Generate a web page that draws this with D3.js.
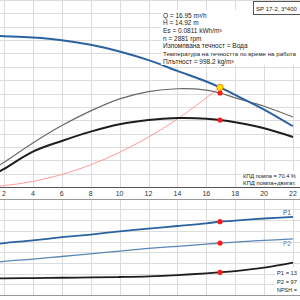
<!doctype html>
<html>
	<head>
		<meta charset="utf-8">
		<title>SP 17-2 pump curve</title>
		<script src="https://d3js.org/d3.v7.min.js"></script>
		<style>
		html, body { margin: 0; padding: 0; background: #fff; }
		svg { display: block; font-family: "Liberation Sans", Arial, sans-serif; }
		</style>
	</head>
	<body>
		<svg width="300" height="300"></svg>
		<script>
		// flow, m3/h
		var flow = [1.5, 2, 4, 6, 8, 10, 12, 14, 16, 16.95, 18, 20, 22];
		// head, m
		var head = [22.6, 22.6, 22.4, 22.0, 21.3, 20.3, 19.0, 17.4, 15.8, 14.92, 13.8, 11.6, 9.1];
		// efficiency, %
		var etaPump = [15, 18.5, 33, 46, 57, 66, 71.5, 73.6, 72.6, 70.4, 66.8, 60.5, 52.4];
		var etaTotal = [10.5, 13.5, 26.5, 34.5, 41.5, 47, 50.2, 51.6, 51.2, 50.2, 48.5, 44, 37.5];
		// power, kW
		var p1 = [0.95, 0.97, 1.02, 1.08, 1.13, 1.19, 1.24, 1.29, 1.34, 1.371, 1.39, 1.43, 1.46];
		var p2 = [0.61, 0.63, 0.67, 0.72, 0.77, 0.82, 0.87, 0.91, 0.95, 0.970, 0.99, 1.02, 1.05];
		// NPSH, m
		var npsh = [1.55, 1.56, 1.58, 1.61, 1.64, 1.68, 1.74, 1.86, 2.03, 2.12, 2.24, 2.55, 3.02];
		// system curve
		var sysFlow = [0, 2, 4, 6, 8, 10, 12, 14, 16.95];
		var sysHead = [0, 0.21, 0.83, 1.87, 3.32, 5.19, 7.48, 10.18, 14.92];

		var duty = {q: 16.95, h: 14.92, etaPump: 70.4, etaTotal: 50.2, p1: 1.371, p2: 0.970, npsh: 2.12};

		var xTicks = [2, 4, 6, 8, 10, 12, 14, 16, 18, 20, 22];
		var infoLines = [
			"Q = 16.95 m³/h",
			"H = 14.92 m",
			"Es = 0.0811 kWh/m³",
			"n = 2881 rpm",
			"Изпомпвана течност = Вода",
			"Температура на течността по време на работа",
			"Плътност = 998.2 kg/m³"
		];
		var effLines = ["КПД помпа = 70.4 %", "КПД помпа+двигат."];
		var powerLines = ["P1 = 13", "P2 = 97", "NPSH ="];
		var pumpName = "SP 17-2, 3*400";

		var svg = d3.select("svg");

		var x = d3.scaleLinear().domain([2, 22]).range([4, 293]);
		var yH = d3.scaleLinear().domain([0, 28]).range([187, 0.1]);
		var yEta = d3.scaleLinear().domain([0, 100]).range([187, 53.5]);
		var yP = d3.scaleLinear().domain([0, 1.8]).range([295, 198.7]);
		var yN = d3.scaleLinear().domain([0, 9]).range([295, 198.7]);

		var defs = svg.append("defs");
		defs.append("clipPath").attr("id", "clipTop")
			.append("rect").attr("x", 0).attr("y", 0).attr("width", 293.5).attr("height", 187);
		defs.append("clipPath").attr("id", "clipBot")
			.append("rect").attr("x", 0).attr("y", 198.7).attr("width", 293.5).attr("height", 96.3);

		// grid
		var grid = svg.append("g").attr("stroke", "#dcdcdc").attr("stroke-width", 1);
		d3.range(0, 29, 2).forEach(function(h) {
			grid.append("line").attr("x1", 0).attr("x2", 300)
				.attr("y1", Math.round(yH(h)) + 0.5).attr("y2", Math.round(yH(h)) + 0.5);
		});
		d3.range(0, 10).forEach(function(i) {
			var y = Math.round(yP(i * 0.2)) + 0.5;
			grid.append("line").attr("x1", 0).attr("x2", 300).attr("y1", y).attr("y2", y);
		});
		xTicks.forEach(function(q) {
			var xx = Math.round(x(q)) + 0.5;
			grid.append("line").attr("x1", xx).attr("x2", xx).attr("y1", 0).attr("y2", 187);
			grid.append("line").attr("x1", xx).attr("x2", xx).attr("y1", 199).attr("y2", 295);
		});

		// axis and panel borders
		svg.append("line").attr("x1", 0).attr("x2", 300).attr("y1", 187.5).attr("y2", 187.5)
			.attr("stroke", "#555");
		svg.append("line").attr("x1", 0).attr("x2", 300).attr("y1", 199.5).attr("y2", 199.5)
			.attr("stroke", "#999");
		svg.append("line").attr("x1", 0).attr("x2", 300).attr("y1", 295.5).attr("y2", 295.5)
			.attr("stroke", "#999");

		svg.append("g").selectAll("text").data(xTicks).join("text")
			.attr("x", function(d) { return x(d); })
			.attr("y", 195.5)
			.attr("text-anchor", "middle")
			.attr("font-size", 7)
			.attr("fill", "#333")
			.text(function(d) { return d; });

		function pts(xs, ys) { return xs.map(function(q, i) { return [q, ys[i]]; }); }
		function curve(ys) {
			return d3.line().x(function(d) { return x(d[0]); }).y(function(d) { return ys(d[1]); })
				.curve(d3.curveCatmullRom);
		}

		var topPanel = svg.append("g").attr("clip-path", "url(#clipTop)").attr("fill", "none");
		topPanel.append("path").attr("d", curve(yH)(pts(sysFlow, sysHead)))
			.attr("stroke", "#ff9a9a").attr("stroke-width", 1);
		topPanel.append("path").attr("d", curve(yEta)(pts(flow, etaPump)))
			.attr("stroke", "#6a6a6a").attr("stroke-width", 1.2);
		topPanel.append("path").attr("d", curve(yEta)(pts(flow, etaTotal)))
			.attr("stroke", "#1e1e1e").attr("stroke-width", 2);
		topPanel.append("path").attr("d", curve(yH)(pts(flow, head)))
			.attr("stroke", "#2b62a0").attr("stroke-width", 2);

		var botPanel = svg.append("g").attr("clip-path", "url(#clipBot)").attr("fill", "none");
		botPanel.append("path").attr("d", curve(yP)(pts(flow, p1)))
			.attr("stroke", "#2b62a0").attr("stroke-width", 1.8);
		botPanel.append("path").attr("d", curve(yP)(pts(flow, p2)))
			.attr("stroke", "#5a86b8").attr("stroke-width", 1.3);
		botPanel.append("path").attr("d", curve(yN)(pts(flow, npsh)))
			.attr("stroke", "#1e1e1e").attr("stroke-width", 1.8);

		// duty point markers
		var dots = [
			[duty.etaPump, yEta], [duty.etaTotal, yEta],
			[duty.p1, yP], [duty.p2, yP], [duty.npsh, yN]
		];
		dots.forEach(function(d) {
			svg.append("circle").attr("cx", x(duty.q)).attr("cy", d[1](d[0])).attr("r", 2.6)
				.attr("fill", "#ff1a1a");
		});
		svg.append("circle").attr("cx", x(duty.q)).attr("cy", yH(duty.h)).attr("r", 3.2)
			.attr("fill", "#ffe400").attr("stroke", "#ff6a00").attr("stroke-width", 0.8);

		// curve labels
		svg.append("text").attr("x", 283).attr("y", 215).attr("font-size", 6.5).attr("fill", "#2b62a0").text("P1");
		svg.append("text").attr("x", 283).attr("y", 246).attr("font-size", 6.5).attr("fill", "#5a86b8").text("P2");

		// shrink a text so that it ends before the right edge
		function fit(sel, right) {
			sel.each(function() {
				var w = this.getComputedTextLength();
				var room = right - (+this.getAttribute("x"));
				if (w > room) {
					var fs = +this.getAttribute("font-size");
					d3.select(this).attr("font-size", (fs * room / w).toFixed(2));
				}
			});
		}

		// info box
		svg.append("rect").attr("x", 161).attr("y", 10).attr("width", 139).attr("height", 55).attr("fill", "#fff");
		svg.append("g").selectAll("text").data(infoLines).join("text")
			.attr("x", 163).attr("y", function(d, i) { return 17.5 + i * 7.7; })
			.attr("font-size", 6.5).attr("fill", "#222")
			.text(function(d) { return d; })
			.call(fit, 296);

		svg.append("rect").attr("x", 253.5).attr("y", 1.5).attr("width", 50).attr("height", 13)
			.attr("fill", "#fff").attr("stroke", "#555");
		svg.append("text").attr("x", 256).attr("y", 10.5).attr("font-size", 6.5).attr("fill", "#222")
			.text(pumpName).call(fit, 297);

		svg.append("rect").attr("x", 241).attr("y", 171).attr("width", 59).attr("height", 15).attr("fill", "#fff");
		svg.append("g").selectAll("text").data(effLines).join("text")
			.attr("x", 243).attr("y", function(d, i) { return 178.3 + i * 7; })
			.attr("font-size", 6.5).attr("fill", "#222")
			.text(function(d) { return d; })
			.call(fit, 296);

		svg.append("rect").attr("x", 275).attr("y", 268).attr("width", 25).attr("height", 26).attr("fill", "#fff");
		svg.append("g").selectAll("text").data(powerLines).join("text")
			.attr("x", 277).attr("y", function(d, i) { return 275.3 + i * 8.2; })
			.attr("font-size", 6.5).attr("fill", "#222")
			.text(function(d) { return d; })
			.call(fit, 297);
		</script>
	</body>
</html>
